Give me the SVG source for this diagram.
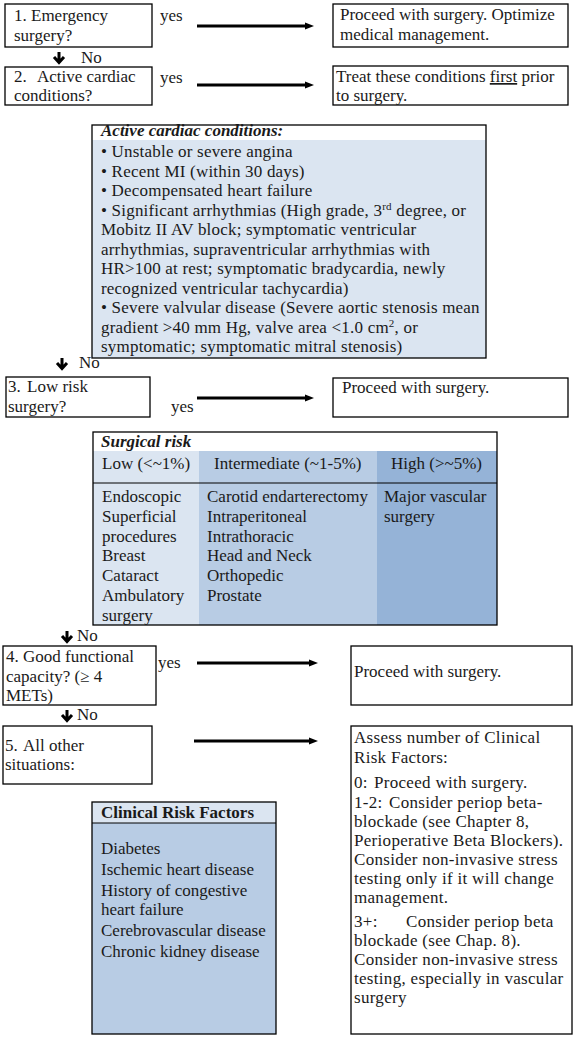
<svg xmlns="http://www.w3.org/2000/svg" width="574" height="1042" viewBox="0 0 574 1042">
<style>
  text { font-family: "Liberation Serif", "Times New Roman", serif; font-size: 17px; fill: #1a1a1a; }
  .box { fill: #ffffff; stroke: #000; stroke-width: 1.3; }
  .bi { font-weight: bold; font-style: italic; }
  .b { font-weight: bold; }
  .ls { letter-spacing: 0.2px; }
  .ls3 { letter-spacing: 0.3px; }
  .conn { stroke: #000; stroke-width: 3; fill: none; }
  .dn { stroke: #000; stroke-width: 3; fill: none; stroke-linejoin: miter; }
  .c1 { fill: #dbe5f1; }
  .c2 { fill: #b8cce4; }
  .c3 { fill: #95b3d7; }
  .sup { font-size: 11px; }
</style>
<defs>
  <marker id="ah" markerUnits="userSpaceOnUse" markerWidth="10" markerHeight="8" refX="1" refY="4" orient="auto">
    <path d="M0,0.5 L9,4 L0,7.5 z" fill="#000"/>
  </marker>
</defs>

<g id="q1">
  <rect class="box" x="5" y="4" width="147" height="43"/>
  <text x="14" y="21">1. Emergency</text>
  <text x="14" y="41">surgery?</text>
</g>
<g id="a1">
  <rect class="box" x="333" y="4" width="235" height="43"/>
  <text x="340" y="20">Proceed with surgery. Optimize</text>
  <text x="340" y="40">medical management.</text>
</g>

<g id="q2">
  <rect class="box" x="5" y="67" width="147" height="38"/>
  <text x="14" y="82">2.</text><text x="37" y="82">Active cardiac</text>
  <text x="14" y="101">conditions?</text>
</g>
<g id="a2">
  <rect class="box" x="333" y="66" width="235" height="39"/>
  <text x="336" y="82">Treat these conditions <tspan text-decoration="underline">first</tspan> prior</text>
  <text x="336" y="101">to surgery.</text>
</g>

<g id="active-conditions">
  <rect x="92" y="125" width="394" height="15" fill="#ffffff"/>
  <rect class="c1" x="92" y="140" width="394" height="218"/>
  <rect x="92" y="125" width="394" height="233" fill="none" stroke="#000" stroke-width="1.3"/>
  <text class="bi" x="101" y="136">Active cardiac conditions:</text>
  <g class="ls">
  <text x="101" y="157">• Unstable or severe angina</text>
  <text x="101" y="176.5">• Recent MI (within 30 days)</text>
  <text x="101" y="196">• Decompensated heart failure</text>
  <text x="101" y="215.5">• Significant arrhythmias (High grade, 3<tspan class="sup" dy="-6">rd</tspan><tspan dy="6"> degree, or</tspan></text>
  <text x="101" y="235">Mobitz II AV block; symptomatic ventricular</text>
  <text x="101" y="254.5">arrhythmias, supraventricular arrhythmias with</text>
  <text x="101" y="274">HR&gt;100 at rest; symptomatic bradycardia, newly</text>
  <text x="101" y="293.5">recognized ventricular tachycardia)</text>
  <text x="101" y="313">• Severe valvular disease (Severe aortic stenosis mean</text>
  <text x="101" y="332.5">gradient &gt;40 mm Hg, valve area &lt;1.0 cm<tspan class="sup" dy="-6">2</tspan><tspan dy="6">, or</tspan></text>
  <text x="101" y="352">symptomatic; symptomatic mitral stenosis)</text>
  </g>
</g>

<g id="q3">
  <rect class="box" x="6" y="377" width="144" height="40"/>
  <text x="8" y="392">3.</text><text x="27" y="392">Low risk</text>
  <text x="8" y="412">surgery?</text>
</g>
<g id="a3">
  <rect class="box" x="333" y="378" width="235" height="39"/>
  <text x="342" y="393">Proceed with surgery.</text>
</g>

<g id="surgical-risk">
  <rect x="93" y="432" width="404" height="19" fill="#ffffff"/>
  <rect class="c1" x="93" y="451" width="106" height="174"/>
  <rect class="c2" x="199" y="451" width="178" height="174"/>
  <rect class="c3" x="377" y="451" width="120" height="174"/>
  <line x1="93" y1="483" x2="497" y2="483" stroke="#000" stroke-width="1"/>
  <rect x="93" y="432" width="404" height="193" fill="none" stroke="#000" stroke-width="1.3"/>
  <text class="bi" x="101" y="447">Surgical risk</text>
  <text x="102" y="469">Low (&lt;~1%)</text>
  <text x="214" y="469">Intermediate (~1-5%)</text>
  <text x="391" y="469">High (&gt;~5%)</text>
  <text x="102" y="502">Endoscopic</text>
  <text x="102" y="521.8">Superficial</text>
  <text x="102" y="541.6">procedures</text>
  <text x="102" y="561.4">Breast</text>
  <text x="102" y="581.2">Cataract</text>
  <text x="102" y="601">Ambulatory</text>
  <text x="102" y="620.8">surgery</text>
  <text x="207" y="502">Carotid endarterectomy</text>
  <text x="207" y="521.8">Intraperitoneal</text>
  <text x="207" y="541.6">Intrathoracic</text>
  <text x="207" y="561.4">Head and Neck</text>
  <text x="207" y="581.2">Orthopedic</text>
  <text x="207" y="601">Prostate</text>
  <text x="384" y="502">Major vascular</text>
  <text x="384" y="521.8">surgery</text>
</g>

<g id="q4">
  <rect class="box" x="3" y="646" width="153" height="59"/>
  <text x="6" y="662">4. Good functional</text>
  <text x="6" y="682">capacity? (≥ 4</text>
  <text x="6" y="701">METs)</text>
</g>
<g id="a4">
  <rect class="box" x="351" y="646" width="221" height="59"/>
  <text x="354" y="677">Proceed with surgery.</text>
</g>

<g id="q5">
  <rect class="box" x="3" y="726" width="149" height="58"/>
  <text x="5" y="751">5.</text><text x="23" y="751">All other</text>
  <text x="5" y="770">situations:</text>
</g>
<g id="a5">
  <rect class="box" x="351" y="726" width="221" height="308"/>
  <g class="ls3">
  <text x="354" y="743">Assess number of Clinical</text>
  <text x="354" y="762.5">Risk Factors:</text>
  <text x="354" y="788">0:</text><text x="374" y="788">Proceed with surgery.</text>
  <text x="354" y="808">1-2:</text><text x="389" y="808">Consider periop beta-</text>
  <text x="354" y="827">blockade (see Chapter 8,</text>
  <text x="354" y="846">Perioperative Beta Blockers).</text>
  <text x="354" y="865">Consider non-invasive stress</text>
  <text x="354" y="884">testing only if it will change</text>
  <text x="354" y="903">management.</text>
  <text x="354" y="927">3+:</text><text x="406" y="927">Consider periop beta</text>
  <text x="354" y="946">blockade (see Chap. 8).</text>
  <text x="354" y="965">Consider non-invasive stress</text>
  <text x="354" y="984">testing, especially in vascular</text>
  <text x="354" y="1003">surgery</text>
  </g>
</g>

<g id="clinical-risk-factors">
  <rect class="c1" x="92" y="802" width="184" height="21"/>
  <rect class="c2" x="92" y="823" width="184" height="211"/>
  <line x1="92" y1="823" x2="276" y2="823" stroke="#000" stroke-width="1"/>
  <rect x="92" y="802" width="184" height="232" fill="none" stroke="#000" stroke-width="1.3"/>
  <text class="b" x="101" y="818">Clinical Risk Factors</text>
  <text x="101" y="854">Diabetes</text>
  <text x="101" y="875">Ischemic heart disease</text>
  <text x="101" y="896">History of congestive</text>
  <text x="101" y="915">heart failure</text>
  <text x="101" y="936">Cerebrovascular disease</text>
  <text x="101" y="957">Chronic kidney disease</text>
</g>

<g id="connectors">
  <text x="160" y="21">yes</text>
  <line class="conn" x1="197" y1="26" x2="306" y2="26" marker-end="url(#ah)"/>
  <text x="160" y="83">yes</text>
  <line class="conn" x1="197" y1="85" x2="306" y2="85" marker-end="url(#ah)"/>
  <text x="171" y="412">yes</text>
  <line class="conn" x1="197" y1="398" x2="306" y2="398" marker-end="url(#ah)"/>
  <text x="158" y="668">yes</text>
  <line class="conn" x1="197" y1="663" x2="310" y2="663" marker-end="url(#ah)"/>
  <line class="conn" x1="194" y1="741" x2="310" y2="741" marker-end="url(#ah)"/>

  <path class="dn" d="M59,52 V62 M54,57 L59,62.5 L64,57"/>
  <text x="81" y="63">No</text>
  <path class="dn" d="M62,358 V368 M57,363 L62,368.5 L67,363"/>
  <text x="79" y="368">No</text>
  <path class="dn" d="M67,631 V641 M62,636 L67,641.5 L72,636"/>
  <text x="77" y="641">No</text>
  <path class="dn" d="M67,710 V720 M62,715 L67,720.5 L72,715"/>
  <text x="77" y="720">No</text>
</g>
</svg>
